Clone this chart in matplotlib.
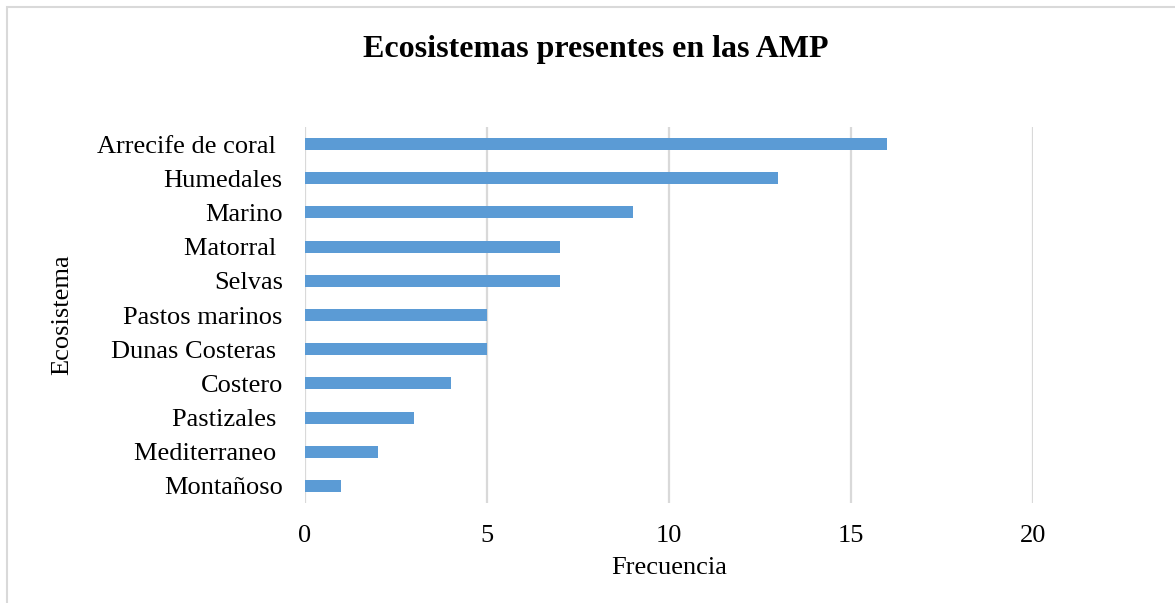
import matplotlib.pyplot as plt
import numpy as np

# data (top to bottom)
categorias = ['Arrecife de coral ', 'Humedales', 'Marino', 'Matorral ', 'Selvas',
              'Pastos marinos', 'Dunas Costeras ', 'Costero', 'Pastizales ',
              'Mediterraneo ', 'Montañoso']
frecuencia = [16, 13, 9, 7, 7, 5, 5, 4, 3, 2, 1]
xticks = [0, 5, 10, 15, 20]

plt.rcParams['font.family'] = ['Liberation Serif', 'DejaVu Serif']

fig = plt.figure(figsize=(11.75, 6.03), dpi=100)
ax = fig.add_axes([0.2596, 0.1658, 0.8791 - 0.2596, 0.7894 - 0.1658])

y = np.arange(len(categorias))[::-1]
ax.barh(y, frecuencia, height=0.35, color='#5B9BD5', zorder=3)

ax.set_xlim(0, 20)
ax.set_ylim(-0.5, len(categorias) - 0.5)
ax.set_xticks(xticks)
ax.set_xticklabels([str(t) for t in xticks], fontsize=19)
ax.set_yticks(y)
ax.set_yticklabels(categorias, fontsize=19)
ax.tick_params(length=0)
ax.tick_params(axis='x', pad=16)
ax.tick_params(axis='y', pad=16)
ax.grid(axis='x', color='#D9D9D9', linewidth=1.6, zorder=0)
for s in ax.spines.values():
    s.set_visible(False)

ax.set_xlabel('Frecuencia', fontsize=19, labelpad=7)
ax.set_ylabel('Ecosistema', fontsize=19, labelpad=17)

fig.text(0.507, 1 - 49 / 603, 'Ecosistemas presentes en las AMP', fontsize=23,
         fontweight='bold', ha='center', va='center')

# light border of the chart area (left and top visible)
fig.patches.append(plt.Rectangle((7 / 1175, -0.05), 1.2, 1 - 7 / 603 + 0.05,
                                 transform=fig.transFigure, fill=False,
                                 edgecolor='#D9D9D9', linewidth=1.5))

fig.savefig('out.png', dpi=100)
